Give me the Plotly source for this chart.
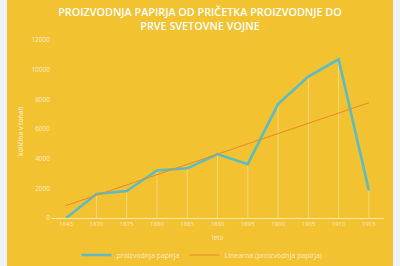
import plotly.graph_objects as go

years = ["1843", "1870", "1875", "1880", "1885", "1890", "1895", "1900", "1905", "1910", "1915"]
production = [0, 1620, 1820, 3200, 3350, 4300, 3630, 7680, 9530, 10700, 1860]
trend_years = ["1843", "1915"]
trend_values = [840, 7770]
y_ticks = [0, 2000, 4000, 6000, 8000, 10000, 12000]
y_tick_labels = ["0", "2000", "4000", "6000", "8000", "10000", "12000"]

W, H = 400, 266
L, R, T, B = 51, 16, 40, 48
pw, ph = W - L - R, H - T - B

def px_x(px):
    return (px - L) / pw

def px_y(py):
    return (H - B - py) / ph

YELLOW = "#F2C230"
PALE = "rgba(255,255,255,0.72)"
FONT = "Open Sans"

fig = go.Figure()

# drop lines
fig.add_trace(go.Scatter(
    x=years, y=production, mode="markers",
    marker=dict(size=0.1, color="rgba(0,0,0,0)"),
    error_y=dict(type="data", symmetric=False, array=[0] * len(production),
                 arrayminus=production, width=0, thickness=0.8,
                 color="rgba(255,255,255,0.45)"),
    showlegend=False, hoverinfo="skip",
))

fig.add_trace(go.Scatter(
    x=years, y=production, mode="lines", name="proizvodnja papirja",
    line=dict(color="#5BBDC4", width=2.6),
))

fig.add_trace(go.Scatter(
    x=trend_years, y=trend_values, mode="lines", name="Linearna (proizvodnja papirja)",
    line=dict(color="#E8892A", width=1),
))

fig.update_layout(
    width=W, height=H,
    margin=dict(l=L, r=R, t=T, b=B, pad=0, autoexpand=False),
    paper_bgcolor="#EEF1F5",
    plot_bgcolor="rgba(0,0,0,0)",
    font=dict(family=FONT, color=PALE),
    title=dict(
        text="PROIZVODNJA PAPIRJA OD PRIČETKA PROIZVODNJE DO<br>PRVE SVETOVNE VOJNE",
        x=0.5, xref="container", xanchor="center",
        y=1 - 16 / H, yref="container", yanchor="middle",
        font=dict(family=FONT, size=10.8, color="#FFFFFF", weight=600),
    ),
    xaxis=dict(
        type="category", range=[-0.5, 10.5], showgrid=False, zeroline=False,
        showline=True, linecolor="rgba(255,255,255,0.6)", linewidth=1,
        ticks="", tickfont=dict(size=6, color=PALE),
    ),
    yaxis=dict(
        range=[0, 12000], tickvals=y_ticks, ticktext=y_tick_labels,
        showgrid=False, zeroline=False,
        showline=False, ticks="", tickfont=dict(size=6.5, color=PALE),
    ),
    legend=dict(
        orientation="h", x=px_x(202), xanchor="center", y=px_y(255), yanchor="middle",
        font=dict(size=7, color=PALE), itemwidth=30, bgcolor="rgba(0,0,0,0)",
        tracegroupgap=0,
    ),
    shapes=[dict(type="rect", xref="paper", yref="paper",
                 x0=px_x(7), x1=px_x(393), y0=-0.4, y1=1.4,
                 fillcolor=YELLOW, line=dict(width=0), layer="below")],
    annotations=[
        dict(text="količina v tonah", xref="paper", yref="paper",
             x=px_x(20), y=px_y(131), textangle=-90, showarrow=False,
             xanchor="center", yanchor="middle",
             font=dict(size=6.5, color=PALE, weight=600)),
        dict(text="leto", xref="paper", yref="paper",
             x=px_x(218), y=px_y(237), showarrow=False,
             xanchor="center", yanchor="middle",
             font=dict(size=6.5, color=PALE)),
    ],
)

fig.write_html("out.html")
